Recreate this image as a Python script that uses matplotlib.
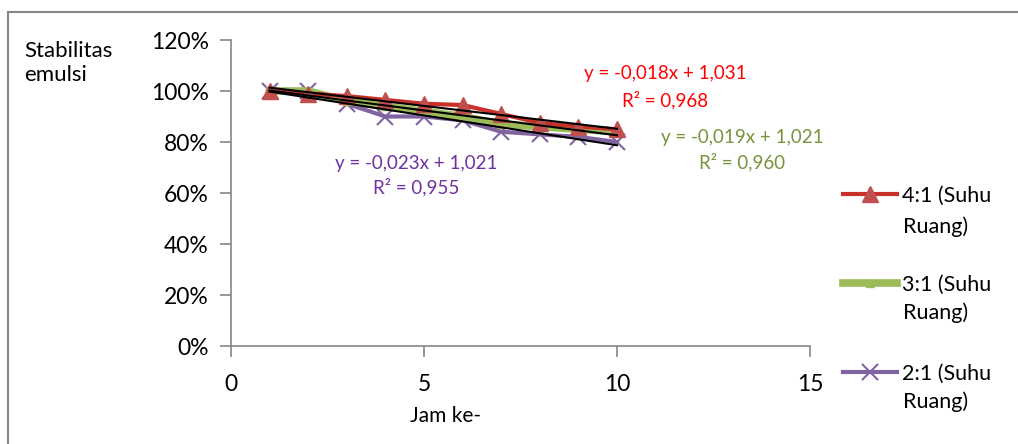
import matplotlib.pyplot as plt
import matplotlib.ticker as mticker
from matplotlib.patches import Rectangle
import numpy as np

plt.rcParams['font.family'] = ['Lato', 'DejaVu Sans']

jam = [1, 2, 3, 4, 5, 6, 7, 8, 9, 10]
stab_41 = [1.00, 0.99, 0.98, 0.965, 0.95, 0.945, 0.91, 0.875, 0.86, 0.85]
stab_31 = [1.00, 1.00, 0.96, 0.94, 0.92, 0.90, 0.87, 0.86, 0.85, 0.84]
stab_21 = [1.00, 1.00, 0.95, 0.90, 0.90, 0.885, 0.84, 0.83, 0.82, 0.80]

labels = ['4:1 (Suhu', '3:1 (Suhu', '2:1 (Suhu']
label_2nd = 'Ruang)'
eq_text = [('y = -0,018x + 1,031', 'R² = 0,968'),
           ('y = -0,019x + 1,021', 'R² = 0,960'),
           ('y = -0,023x + 1,021', 'R² = 0,955')]

W, H = 1018, 444
fig = plt.figure(figsize=(W / 100, H / 100), dpi=100)
ax = fig.add_axes([231 / W, 1 - 346 / H, (810 - 231) / W, (346 - 40) / H])

# outer chart border
fig.patches.append(Rectangle((8 / W, -0.05), 1.1, 1 - 12 / H + 0.05,
                             transform=fig.transFigure, fill=False,
                             edgecolor='#868686', linewidth=1.5))

x = np.array(jam)
l2, = ax.plot(jam, stab_21, color='#8064A2', linewidth=3, marker='x',
              markersize=11, markeredgewidth=1.5, zorder=2, label=labels[2])
l3, = ax.plot(jam, stab_31, color='#9BBB59', linewidth=5.5, marker='^',
              markersize=6, zorder=3, label=labels[1])
l1, = ax.plot(jam, stab_41, color='#C8302C', linewidth=3, marker='^',
              markersize=11, markerfacecolor='#C0504D',
              markeredgecolor='#C0504D', zorder=4, label=labels[0])

for ys in (stab_41, stab_31, stab_21):
    k, b = np.polyfit(x, ys, 1)
    ax.plot(x, k * x + b, color='black', linewidth=1.5, zorder=5)

ax.set_xlim(0, 15)
ax.set_ylim(0, 1.2)
ax.set_xticks([0, 5, 10, 15])
ax.set_yticks(np.arange(0, 1.21, 0.2))
ax.yaxis.set_major_formatter(mticker.FuncFormatter(lambda v, p: f'{v * 100:.0f}%'))
for s in ('top', 'right'):
    ax.spines[s].set_visible(False)
for s in ('left', 'bottom'):
    ax.spines[s].set_color('#868686')
    ax.spines[s].set_linewidth(1.2)
ax.tick_params(direction='out', length=8, width=1.2, color='#868686',
               labelsize=16.5, pad=8)
ax.tick_params(axis='x', pad=12)

fig.text(445 / W, 1 - 416 / H, 'Jam ke-', fontsize=15, ha='center', va='center')
fig.text(24 / W, 1 - 63 / H, 'Stabilitas\nemulsi', fontsize=16, ha='left',
         va='center', linespacing=1.25)

cols = ['#FF0000', '#77933C', '#7030A0']
pos = [(665, 74, 100), (742, 137, 162), (416, 163, 187)]
for (t1, t2), c, (px, py1, py2) in zip(eq_text, cols, pos):
    fig.text(px / W, 1 - py1 / H, t1, color=c, fontsize=13.5, ha='center', va='center')
    fig.text(px / W, 1 - py2 / H, t2, color=c, fontsize=13.5, ha='center', va='center')

leg = fig.legend(handles=[l1, l3, l2], loc='upper left',
                 bbox_to_anchor=(843 / W, 1 - 186 / H), frameon=False,
                 fontsize=15.5, handlelength=2.5, handletextpad=0.25,
                 labelspacing=3.2, borderaxespad=0, borderpad=0)
for py in (227, 313, 402):
    fig.text(903 / W, 1 - py / H, label_2nd, fontsize=15.5, ha='left', va='center')

fig.savefig('out.png', dpi=100)
